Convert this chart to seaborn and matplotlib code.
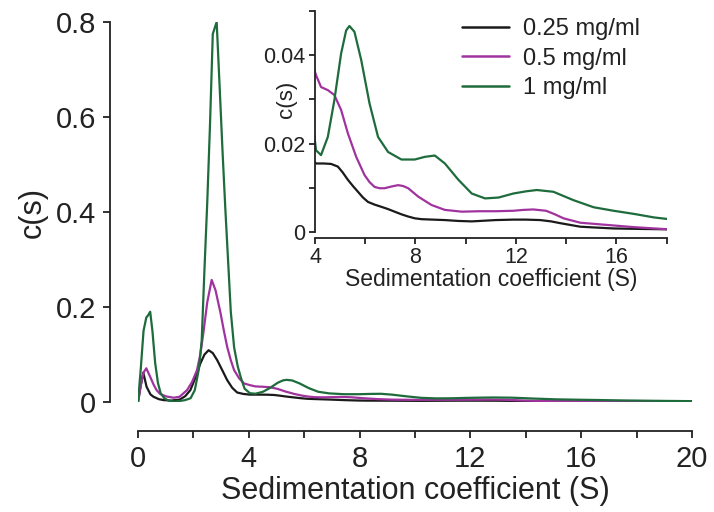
import numpy as np
import pandas as pd
import matplotlib
matplotlib.use("Agg")
import matplotlib.pyplot as plt
import seaborn as sns

# ---------------- data ----------------
series_names = ["0.25 mg/ml", "0.5 mg/ml", "1 mg/ml"]
series_colors = ["#1a1a1a", "#a0339e", "#1e6b3c"]

x_black = [0, 0.1, 0.19, 0.31, 0.45, 0.56, 0.75, 0.92, 1.2, 1.5, 1.7, 1.89, 2.05, 2.25,
           2.4, 2.55, 2.7, 2.86, 3.05, 3.22, 3.4, 3.58, 3.8, 4.04, 4.35, 4.64, 4.91,
           5.1, 5.31, 5.51, 5.71, 5.91, 6.11, 6.37, 6.64, 6.9, 7.17, 7.44, 7.71, 7.97,
           8.24, 8.7, 9.17, 9.7, 10.24, 10.56, 11.2, 11.89, 12.4, 12.96, 13.4, 13.76,
           14.16, 14.56, 15.2, 15.89, 16.9, 18.09, 19.0, 20.0]
y_black = [0, 0.035, 0.062, 0.032, 0.016, 0.011, 0.006, 0.004, 0.003, 0.005, 0.012,
           0.025, 0.048, 0.081, 0.1, 0.109, 0.103, 0.088, 0.066, 0.046, 0.03, 0.02,
           0.017, 0.0155, 0.0155, 0.0154, 0.0148, 0.0135, 0.0118, 0.0104, 0.0091,
           0.0078, 0.0068, 0.0062, 0.0057, 0.0052, 0.0046, 0.0040, 0.0035, 0.0031,
           0.0029, 0.0028, 0.0027, 0.0025, 0.0024, 0.0025, 0.0027, 0.0028, 0.0028,
           0.0027, 0.0024, 0.0020, 0.0016, 0.0012, 0.0010, 0.0008, 0.0007, 0.0006,
           0.0005, 0.0004]

x_purple = [0, 0.1, 0.2, 0.3, 0.44, 0.56, 0.67, 0.8, 1.0, 1.28, 1.5, 1.77, 1.95, 2.13,
            2.25, 2.37, 2.5, 2.66, 2.8, 2.98, 3.1, 3.22, 3.35, 3.47, 3.65, 3.83, 4.04,
            4.24, 4.51, 4.77, 5.04, 5.31, 5.64, 5.97, 6.17, 6.37, 6.57, 6.77, 7.05,
            7.31, 7.51, 7.71, 8.11, 8.64, 9.17, 9.84, 10.56, 11.2, 11.89, 12.3, 12.69,
            13.2, 13.55, 13.89, 14.56, 15.63, 16.69, 18.09, 19.0, 20.0]
y_purple = [0, 0.035, 0.062, 0.071, 0.053, 0.037, 0.025, 0.017, 0.012, 0.009, 0.011,
            0.025, 0.042, 0.067, 0.1, 0.15, 0.21, 0.257, 0.235, 0.187, 0.15, 0.116,
            0.088, 0.067, 0.05, 0.039, 0.0355, 0.0328, 0.0321, 0.0310, 0.0276, 0.0223,
            0.0170, 0.0129, 0.0113, 0.0102, 0.0099, 0.0099, 0.0103, 0.0106, 0.0104,
            0.0099, 0.0080, 0.0061, 0.0050, 0.0046, 0.0047, 0.0047, 0.0048, 0.0050,
            0.0051, 0.0048, 0.0040, 0.0031, 0.0021, 0.0016, 0.0011, 0.0006, 0.0004,
            0.0003]

x_green = [0, 0.1, 0.2, 0.3, 0.36, 0.44, 0.52, 0.62, 0.72, 0.82, 0.95, 1.1, 1.3, 1.5,
           1.7, 1.9, 2.05, 2.2, 2.3, 2.4, 2.5, 2.6, 2.7, 2.84, 2.95, 3.05, 3.15, 3.25,
           3.35, 3.47, 3.6, 3.72, 3.85, 4.04, 4.24, 4.51, 4.77, 5.04, 5.24, 5.37, 5.57,
           5.84, 6.17, 6.51, 6.91, 7.44, 7.97, 8.37, 8.77, 9.17, 9.71, 10.24, 10.77,
           11.31, 11.89, 12.4, 12.83, 13.49, 14.29, 15.09, 15.89, 16.69, 17.49, 18.09,
           19.0, 20.0]
y_green = [0, 0.07, 0.15, 0.178, 0.182, 0.19, 0.15, 0.082, 0.04, 0.018, 0.008, 0.003,
           0.001, 0.002, 0.004, 0.008, 0.025, 0.07, 0.13, 0.28, 0.42, 0.585, 0.775,
           0.80, 0.66, 0.53, 0.41, 0.30, 0.19, 0.115, 0.075, 0.05, 0.028, 0.0185,
           0.0174, 0.0215, 0.0298, 0.0404, 0.0456, 0.0466, 0.0453, 0.0389, 0.0291,
           0.0215, 0.0181, 0.0164, 0.0164, 0.0170, 0.0173, 0.0155, 0.0118, 0.0087,
           0.0076, 0.0078, 0.0087, 0.0092, 0.0095, 0.0091, 0.0072, 0.0056, 0.0048,
           0.0041, 0.0033, 0.0029, 0.0023, 0.0018]

main_xticks = [0, 2, 4, 6, 8, 10, 12, 14, 16, 18, 20]
main_xticklabels = ["0", "", "4", "", "8", "", "12", "", "16", "", "20"]
main_yticks = [0, 0.2, 0.4, 0.6, 0.8]
main_yticklabels = ["0", "0.2", "0.4", "0.6", "0.8"]
inset_xticks = [4, 6, 8, 10, 12, 14, 16, 18]
inset_xticklabels = ["4", "", "8", "", "12", "", "16", ""]
inset_yticks = [0, 0.01, 0.02, 0.03, 0.04, 0.05]
inset_yticklabels = ["0", "", "0.02", "", "0.04", ""]

xlabel = "Sedimentation coefficient (S)"
ylabel = "c(s)"

# ---------------- build table ----------------
frames = []
for name, xs, ys in zip(series_names, [x_black, x_purple, x_green],
                        [y_black, y_purple, y_green]):
    frames.append(pd.DataFrame({"s": xs, "c": ys, "conc": name}))
df = pd.concat(frames, ignore_index=True)
palette = dict(zip(series_names, series_colors))

sns.set_theme(style="ticks")
plt.rcParams["font.family"] = ["Liberation Sans", "DejaVu Sans"]
plt.rcParams["lines.solid_joinstyle"] = "round"

W, H = 714, 512
fig = plt.figure(figsize=(W / 100, H / 100), dpi=100)

# main axes
ax = fig.add_axes([138 / W, 1 - 402 / H, (692 - 138) / W, (402 - 22) / H])
sns.lineplot(data=df, x="s", y="c", hue="conc", palette=palette, estimator=None,
             sort=False, linewidth=1.6, ax=ax, legend=False)
ax.set_xlim(0, 20)
ax.set_ylim(0, 0.8)
for side in ["top", "right"]:
    ax.spines[side].set_visible(False)
ax.spines["left"].set_position(("outward", 20))
ax.spines["bottom"].set_position(("outward", 21))
for sp in ["left", "bottom"]:
    ax.spines[sp].set_linewidth(1.3)
    ax.spines[sp].set_color("#222222")
ax.spines["left"].set_bounds(0, 0.8)
ax.spines["bottom"].set_bounds(0, 20)
ax.set_xticks(main_xticks)
ax.set_xticklabels(main_xticklabels)
ax.set_yticks(main_yticks)
ax.set_yticklabels(main_yticklabels)
ax.tick_params(axis="both", direction="out", length=5, width=1.3, color="#222222",
               labelsize=21, labelcolor="#222222", pad=5)
ax.set_xlabel(xlabel, fontsize=22, color="#222222", labelpad=2)
ax.set_ylabel(ylabel, fontsize=22, color="#222222")
ax.yaxis.set_label_coords(-0.163, 0.5)
ax.patch.set_alpha(0)

# inset axes
axi = fig.add_axes([315 / W, 1 - 232 / H, (666.7 - 315) / W, (232 - 11) / H])
sns.lineplot(data=df, x="s", y="c", hue="conc", palette=palette, estimator=None,
             sort=False, linewidth=1.6, ax=axi, legend=True)
axi.set_xlim(4, 18)
axi.set_ylim(0, 0.05)
for side in ["top", "right"]:
    axi.spines[side].set_visible(False)
axi.spines["bottom"].set_position(("outward", 4))
for sp in ["left", "bottom"]:
    axi.spines[sp].set_linewidth(1.3)
    axi.spines[sp].set_color("#222222")
axi.set_xticks(inset_xticks)
axi.set_xticklabels(inset_xticklabels)
axi.set_yticks(inset_yticks)
axi.set_yticklabels(inset_yticklabels)
axi.tick_params(axis="both", direction="out", length=4, width=1.3, color="#222222",
                labelsize=15.5, labelcolor="#222222", pad=3)
axi.set_xlabel(xlabel, fontsize=16.5, color="#222222", labelpad=0)
axi.set_ylabel(ylabel, fontsize=16, color="#222222")
axi.yaxis.set_label_coords(-0.05, 0.6)
axi.patch.set_alpha(0)

leg = axi.legend(loc="upper left", bbox_to_anchor=(462 / W, 1 - 18 / H),
                 bbox_transform=fig.transFigure, frameon=False, fontsize=17,
                 handlelength=2.0, handletextpad=0.6, labelspacing=0.32,
                 borderpad=0, borderaxespad=0)
for line in leg.get_lines():
    line.set_linewidth(1.8)
for t in leg.get_texts():
    t.set_color("#222222")

fig.savefig("out.png", dpi=100)
